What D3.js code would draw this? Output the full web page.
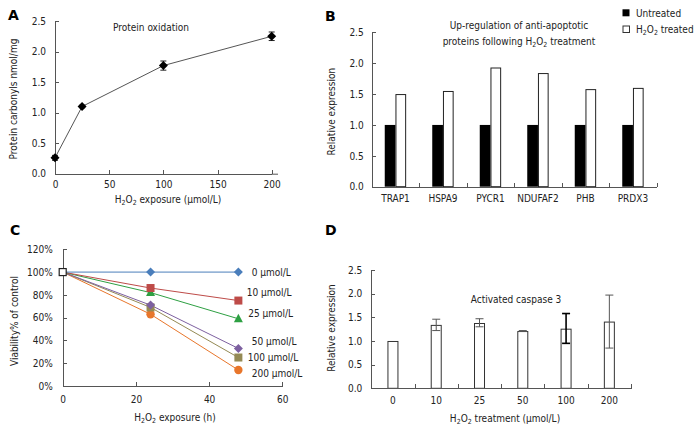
<!DOCTYPE html>
<html><head><meta charset="utf-8">
<script src="https://cdn.jsdelivr.net/npm/d3@7"></script>
<style>
body{margin:0;background:#fff;}
svg{display:block;}
text{font-family:"DejaVu Sans Condensed","DejaVu Sans",sans-serif;font-size:10px;fill:#222;}
.axis path,.axis line{stroke:#555;stroke-width:1;shape-rendering:crispEdges;}
.axis text{font-family:"DejaVu Sans Condensed","DejaVu Sans",sans-serif;font-size:10px;fill:#222;}
.plabel{font-family:"DejaVu Sans","Liberation Sans",sans-serif;font-weight:bold;font-size:14px;fill:#000;}
</style></head><body>
<svg id="c" width="700" height="433"></svg>
<script>
// ---- Panel A data ----
const aDose = [0, 25, 100, 200];
const aCarbonyl = [0.26, 1.10, 1.77, 2.25];
const aErr = [0.04, 0.02, 0.075, 0.07];
const aXTicks = [0, 50, 100, 150, 200];
const aYTicks = [0, 0.5, 1.0, 1.5, 2.0, 2.5];

// ---- Panel B data ----
const bProteins = ["TRAP1", "HSPA9", "PYCR1", "NDUFAF2", "PHB", "PRDX3"];
const bUntreated = [1, 1, 1, 1, 1, 1];
const bTreated = [1.50, 1.55, 1.93, 1.84, 1.58, 1.60];
const bYTicks = [0, 0.5, 1.0, 1.5, 2.0, 2.5];

// ---- Panel C data ----
const cTimes = [0, 24, 48];
const cNames = ["0 μmol/L", "10 μmol/L", "25 μmol/L", "50 μmol/L", "100 μmol/L", "200 μmol/L"];
const c0 = [100, 100, 100];
const c10 = [100, 86, 75];
const c25 = [100, 82, 59];
const c50 = [100, 71, 33];
const c100 = [100, 69, 25];
const c200 = [100, 63, 14];
const cXTicks = [0, 20, 40, 60];
const cYTicks = [0, 20, 40, 60, 80, 100, 120];

// ---- Panel D data ----
const dDoses = ["0", "10", "25", "50", "100", "200"];
const dValues = [1.00, 1.34, 1.38, 1.21, 1.26, 1.41];
const dErrLow = [1.00, 1.22, 1.30, 1.20, 0.95, 0.85];
const dErrHigh = [1.00, 1.46, 1.47, 1.22, 1.58, 1.97];
const dYTicks = [0, 0.5, 1.0, 1.5, 2.0, 2.5];

const svg = d3.select("#c");
const fmt1 = d3.format(".1f");

function h2o2(sel, after) {
  sel.append("tspan").text("H");
  sel.append("tspan").attr("font-size", "7px").attr("dy", 1.5).text("2");
  sel.append("tspan").attr("dy", -1.5).text("O");
  sel.append("tspan").attr("font-size", "7px").attr("dy", 1.5).text("2");
  sel.append("tspan").attr("dy", -1.5).text(after);
}
function yLabel(x, y, txt) {
  svg.append("text").attr("transform", `translate(${x},${y}) rotate(-90)`)
    .attr("text-anchor", "middle").attr("dy", "0.35em").attr("font-size", "10.5px").text(txt);
}
function diamond(g, cx, cy, r, fill) {
  g.append("path").attr("d", `M${cx},${cy - r}L${cx + r},${cy}L${cx},${cy + r}L${cx - r},${cy}Z`).attr("fill", fill);
}

// ================= Panel A =================
{
  const x = d3.scaleLinear().domain([0, 200]).range([55, 271.7]);
  const y = d3.scaleLinear().domain([0, 2.5]).range([173.7, 21]);
  const g = svg.append("g");
  g.append("g").attr("class", "axis").attr("transform", `translate(0,${y(0)})`)
    .call(d3.axisBottom(x).tickValues(aXTicks).tickSize(-4).tickSizeOuter(0).tickPadding(7));
  g.append("line").attr("x1", x(200)).attr("x2", 278).attr("y1", y(0) + 0.5).attr("y2", y(0) + 0.5).attr("stroke", "#555");
  g.append("g").attr("class", "axis").attr("transform", `translate(${x(0)},0)`)
    .call(d3.axisLeft(y).tickValues(aYTicks).tickFormat(fmt1).tickSize(-4).tickSizeOuter(0).tickPadding(9));
  const pts = aDose.map((d, i) => [x(d), y(aCarbonyl[i])]);
  g.append("path").attr("d", d3.line()(pts)).attr("fill", "none").attr("stroke", "#555").attr("stroke-width", 1);
  aDose.forEach((d, i) => {
    const cx = x(d), hi = y(aCarbonyl[i] + aErr[i]), lo = y(aCarbonyl[i] - aErr[i]);
    g.append("line").attr("x1", cx).attr("x2", cx).attr("y1", hi).attr("y2", lo).attr("stroke", "#222");
    [hi, lo].forEach(v => g.append("line").attr("x1", cx - 3).attr("x2", cx + 3).attr("y1", v).attr("y2", v).attr("stroke", "#222"));
    diamond(g, cx, y(aCarbonyl[i]), 4.5, "#000");
  });
  g.append("text").attr("x", 151).attr("y", 31).attr("text-anchor", "middle").text("Protein oxidation");
  const xl = g.append("text").attr("x", 168).attr("y", 203).attr("text-anchor", "middle");
  h2o2(xl, " exposure (μmol/L)");
  yLabel(13, 99, "Protein carbonyls nmol/mg");
  svg.append("text").attr("class", "plabel").attr("x", 8).attr("y", 19.5).text("A");
}

// ================= Panel B =================
{
  const x0 = d3.scaleBand().domain(bProteins).range([371.7, 656.7]);
  const xi = d3.scaleLinear().domain([0, 6]).range([371.7, 656.7]);
  const y = d3.scaleLinear().domain([0, 2.5]).range([186.7, 32.3]);
  const bw = 10.7;
  const g = svg.append("g");
  bProteins.forEach((p, i) => {
    const c = x0(p) + x0.bandwidth() / 2;
    g.append("rect").attr("x", c - bw).attr("y", y(bUntreated[i])).attr("width", bw).attr("height", y(0) - y(bUntreated[i])).attr("fill", "#000");
    g.append("rect").attr("x", c + 0.5).attr("y", y(bTreated[i]) + 0.5).attr("width", bw - 1).attr("height", y(0) - y(bTreated[i]) - 0.5)
      .attr("fill", "#fff").attr("stroke", "#222").attr("stroke-width", 1);
  });
  g.append("g").attr("class", "axis").attr("transform", `translate(0,${y(0)})`)
    .call(d3.axisBottom(xi).tickValues([1, 2, 3, 4, 5, 6]).tickFormat("").tickSize(-4).tickSizeOuter(0));
  const xa = g.append("g").attr("class", "axis").attr("transform", `translate(0,${y(0)})`)
    .call(d3.axisBottom(x0).tickSize(0).tickPadding(8));
  xa.select(".domain").remove();
  g.append("g").attr("class", "axis").attr("transform", `translate(${xi(0)},0)`)
    .call(d3.axisLeft(y).tickValues(bYTicks).tickFormat(fmt1).tickSize(-4).tickSizeOuter(0).tickPadding(8));
  g.append("text").attr("x", 519).attr("y", 29).attr("text-anchor", "middle").text("Up-regulation of anti-apoptotic");
  const t2 = g.append("text").attr("x", 519).attr("y", 45).attr("text-anchor", "middle");
  t2.append("tspan").text("proteins following ");
  h2o2(t2, " treatment");
  // legend
  g.append("rect").attr("x", 622.5).attr("y", 9.3).attr("width", 7).attr("height", 7).attr("fill", "#000");
  g.append("text").attr("x", 636).attr("y", 16.5).text("Untreated");
  g.append("rect").attr("x", 623).attr("y", 26).attr("width", 6.5).attr("height", 6.5).attr("fill", "#fff").attr("stroke", "#333");
  const lt = g.append("text").attr("x", 636).attr("y", 33);
  h2o2(lt, " treated");
  yLabel(331.7, 111.7, "Relative expression");
  svg.append("text").attr("class", "plabel").attr("x", 325).attr("y", 20.5).text("B");
}

// ================= Panel C =================
{
  const x = d3.scaleLinear().domain([0, 60]).range([62.7, 282.3]);
  const y = d3.scaleLinear().domain([0, 120]).range([386, 249.3]);
  const g = svg.append("g");
  g.append("g").attr("class", "axis").attr("transform", `translate(0,${y(0)})`)
    .call(d3.axisBottom(x).tickValues(cXTicks).tickSize(-4).tickSizeOuter(0).tickPadding(10));
  g.append("g").attr("class", "axis").attr("transform", `translate(${x(0)},0)`)
    .call(d3.axisLeft(y).tickValues(cYTicks).tickFormat(d => d + "%").tickSize(-4).tickSizeOuter(0).tickPadding(10));
  const series = [c0, c10, c25, c50, c100, c200];
  const colors = ["#4a7ebb", "#be4b48", "#2ea043", "#7d60a0", "#948a54", "#e8762b"];
  const shapes = ["diamond", "square", "triangle", "diamond", "square", "circle"];
  const labelPos = [[251.7, 272.3], [246.7, 292.3], [248.3, 313.3], [251.7, 341], [247.7, 357.3], [251.7, 373.3]];
  const line = d3.line().x((d, i) => x(cTimes[i])).y(d => y(d));
  // draw from last to first so top series on top
  for (let s = series.length - 1; s >= 0; s--) {
    g.append("path").attr("d", line(series[s])).attr("fill", "none").attr("stroke", colors[s]).attr("stroke-width", 1);
  }
  for (let s = series.length - 1; s >= 0; s--) {
    for (let i = 1; i < cTimes.length; i++) {
      const cx = x(cTimes[i]), cy = y(series[s][i]);
      const sh = shapes[s], col = colors[s];
      if (sh === "diamond") diamond(g, cx, cy, 4.5, col);
      else if (sh === "square") g.append("rect").attr("x", cx - 4).attr("y", cy - 4).attr("width", 8).attr("height", 8).attr("fill", col);
      else if (sh === "triangle") g.append("path").attr("d", `M${cx},${cy - 5}L${cx + 4.5},${cy + 3.5}L${cx - 4.5},${cy + 3.5}Z`).attr("fill", col);
      else g.append("circle").attr("cx", cx).attr("cy", cy).attr("r", 4.2).attr("fill", col);
    }
  }
  g.append("rect").attr("x", x(cTimes[0]) - 3.5).attr("y", y(c0[0]) - 3.5).attr("width", 7).attr("height", 7)
    .attr("fill", "#fff").attr("stroke", "#222").attr("stroke-width", 1.2);
  cNames.forEach((n, s) => {
    g.append("text").attr("x", labelPos[s][0]).attr("y", labelPos[s][1]).attr("dy", "0.35em").text(n);
  });
  const xl = g.append("text").attr("x", 175).attr("y", 421).attr("text-anchor", "middle");
  h2o2(xl, " exposure (h)");
  yLabel(14, 321, "Viability% of control");
  svg.append("text").attr("class", "plabel").attr("x", 10).attr("y", 235).text("C");
}

// ================= Panel D =================
{
  const x0 = d3.scaleBand().domain(dDoses).range([371.3, 631]);
  const xi = d3.scaleLinear().domain([0, 6]).range([371.3, 631]);
  const y = d3.scaleLinear().domain([0, 2.5]).range([388.3, 270]);
  const bw = 11;
  const g = svg.append("g");
  dDoses.forEach((d, i) => {
    const c = x0(d) + x0.bandwidth() / 2;
    g.append("rect").attr("x", c - bw / 2 + 0.5).attr("y", y(dValues[i]) + 0.5).attr("width", bw - 1).attr("height", y(0) - y(dValues[i]) - 0.5)
      .attr("fill", "#fff").attr("stroke", "#333").attr("stroke-width", 1);
    if (dErrHigh[i] - dErrLow[i] > 0.001) {
      const strong = (d === "100");
      const col = strong ? "#000" : "#555", sw = strong ? 1.6 : 1;
      const hi = y(dErrHigh[i]), lo = y(dErrLow[i]);
      g.append("line").attr("x1", c).attr("x2", c).attr("y1", hi).attr("y2", lo).attr("stroke", col).attr("stroke-width", sw);
      [hi, lo].forEach(v => g.append("line").attr("x1", c - 4).attr("x2", c + 4).attr("y1", v).attr("y2", v).attr("stroke", col).attr("stroke-width", sw));
    }
  });
  g.append("g").attr("class", "axis").attr("transform", `translate(0,${y(0)})`)
    .call(d3.axisBottom(xi).tickValues([1, 2, 3, 4, 5, 6]).tickFormat("").tickSize(-4).tickSizeOuter(0));
  const xa = g.append("g").attr("class", "axis").attr("transform", `translate(0,${y(0)})`)
    .call(d3.axisBottom(x0).tickSize(0).tickPadding(9));
  xa.select(".domain").remove();
  g.append("g").attr("class", "axis").attr("transform", `translate(${xi(0)},0)`)
    .call(d3.axisLeft(y).tickValues(dYTicks).tickFormat(fmt1).tickSize(-4).tickSizeOuter(0).tickPadding(9));
  g.append("text").attr("x", 516).attr("y", 303).attr("text-anchor", "middle").text("Activated caspase 3");
  const xl = g.append("text").attr("x", 505).attr("y", 422).attr("text-anchor", "middle");
  h2o2(xl, " treatment (μmol/L)");
  yLabel(331.7, 328, "Relative expression");
  svg.append("text").attr("class", "plabel").attr("x", 325).attr("y", 235).text("D");
}
</script>
</body></html>
